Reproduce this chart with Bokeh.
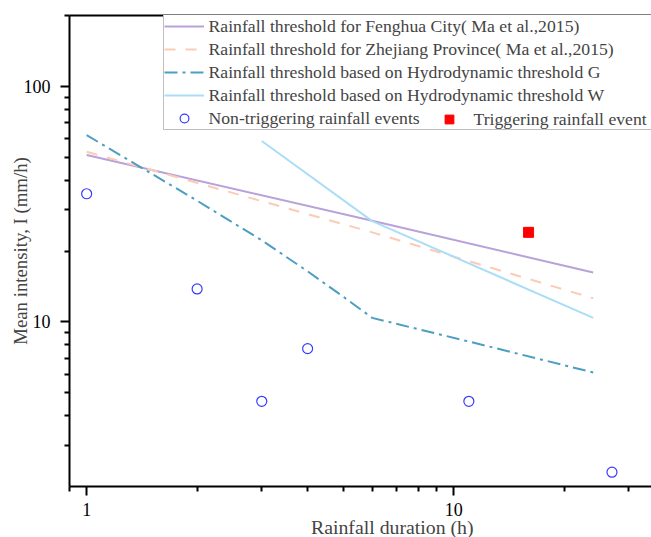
from bokeh.plotting import figure
from bokeh.models import (Legend, LegendItem, Title, LogAxis, FixedTicker,
                          PrintfTickFormatter, Range1d)
from bokeh.embed import file_html
from bokeh.resources import INLINE

# ---- data ----
fenghua_d = [1, 6, 24]
fenghua_i = [51.1, 26.9, 16.2]

zhejiang_d = [1, 6, 24]
zhejiang_i = [52.8, 24.0, 12.6]

hydro_g_d = [1, 2, 3, 4, 5, 6, 12, 24]
hydro_g_i = [62.1, 32.7, 22.2, 16.4, 12.8, 10.4, 7.98, 6.1]

hydro_w_d = [3, 6, 24]
hydro_w_i = [58.6, 26.8, 10.4]

nontrig_d = [1, 2, 3, 4, 11, 27]
nontrig_i = [35.0, 13.8, 4.6, 7.7, 4.6, 2.3]

trig_d = [16]
trig_i = [24.0]

x_major = [1, 10]
x_minor = [0.9, 2, 3, 4, 5, 6, 7, 8, 9, 20, 30, 40]
y_major = [10, 100]
y_minor = [3, 4, 5, 6, 7, 8, 9, 20, 30, 40, 50, 60, 70, 80, 90, 200]

FONT = "Liberation Serif"

p = figure(width=651, height=537, x_axis_type="log", y_axis_type="log",
           x_range=Range1d(0.898, 34.6), y_range=Range1d(2, 200),
           output_backend="svg", toolbar_location=None,
           min_border_left=69, min_border_right=0, min_border_top=15,
           min_border_bottom=51)
p.outline_line_color = None
p.grid.visible = False
p.background_fill_color = "white"
p.border_fill_color = "white"

for ax in (p.xaxis[0], p.yaxis[0]):
    ax.axis_line_width = 2
    ax.major_tick_line_width = 2
    ax.minor_tick_line_width = 2
    ax.major_tick_in = 0
    ax.major_tick_out = 9
    ax.minor_tick_in = 0
    ax.minor_tick_out = 5
    ax.major_label_text_font = FONT
    ax.major_label_text_font_size = "18px"
    ax.major_label_text_line_height = 1.0
    ax.major_label_text_color = "black"
    ax.formatter = PrintfTickFormatter(format="%d")

p.xaxis[0].ticker = FixedTicker(ticks=x_major, minor_ticks=x_minor)
p.yaxis[0].ticker = FixedTicker(ticks=y_major, minor_ticks=y_minor)
p.xaxis[0].major_label_standoff = 7
p.yaxis[0].major_label_standoff = 10
p.yaxis[0].axis_label = "Mean intensity, I (mm/h)"
p.yaxis[0].axis_label_text_font = FONT
p.yaxis[0].axis_label_text_font_size = "18.8px"
p.yaxis[0].axis_label_text_font_style = "normal"
p.yaxis[0].axis_label_standoff = -10

top = LogAxis(ticker=FixedTicker(ticks=[]), axis_line_width=2,
              major_tick_out=0, minor_tick_out=0)
p.add_layout(top, "above")

r_fh = p.line(fenghua_d, fenghua_i, line_color="#B9A1D9", line_width=2)
r_zj = p.line(zhejiang_d, zhejiang_i, line_color="#FBCBB5", line_width=2,
              line_dash="11 10")
r_g = p.line(hydro_g_d, hydro_g_i, line_color="#4C9EC2", line_width=2,
             line_dash="13 5 3 5", line_join="round")
r_w = p.line(hydro_w_d, hydro_w_i, line_color="#AADDF6", line_width=2)
r_nt = p.scatter(nontrig_d, nontrig_i, marker="circle", size=10,
                 fill_color=None, line_color="#3A3AFF", line_width=1.2)
r_t = p.scatter(trig_d, trig_i, marker="square", size=10,
                fill_color="#FF0000", line_color="#FF0000")

leg1 = Legend(items=[
    LegendItem(label="Rainfall threshold for Fenghua City( Ma et al.,2015)", renderers=[r_fh]),
    LegendItem(label="Rainfall threshold for Zhejiang Province( Ma et al.,2015)", renderers=[r_zj]),
    LegendItem(label="Rainfall threshold based on Hydrodynamic threshold G", renderers=[r_g]),
    LegendItem(label="Rainfall threshold based on Hydrodynamic threshold W", renderers=[r_w]),
    LegendItem(label="Non-triggering rainfall events", renderers=[r_nt]),
], location=(93.5, 356.0), margin=0, padding=0, spacing=1,
    glyph_width=40, glyph_height=22, label_height=22, label_width=442,
    label_standoff=5, label_text_font=FONT, label_text_font_size="17.7px",
    border_line_color="#808080", border_line_width=1,
    background_fill_color="white", background_fill_alpha=1)

leg2 = Legend(items=[
    LegendItem(label="Triggering rainfall event", renderers=[r_t]),
], location=(359.5, 356.0), margin=0, padding=0, spacing=0,
    glyph_width=40, glyph_height=22, label_height=22,
    label_standoff=5, label_text_font=FONT, label_text_font_size="17.7px",
    border_line_color=None, background_fill_alpha=0)

p.add_layout(leg1, "center")
p.add_layout(leg2, "center")

xtitle = Title(text="Rainfall duration (h)", align="left", offset=241.5,
               text_font=FONT, text_font_size="19.8px", text_line_height=1.0,
               text_font_style="normal", standoff=-9)
p.add_layout(xtitle, "below")

open("out.html", "w").write(file_html(p, INLINE))
